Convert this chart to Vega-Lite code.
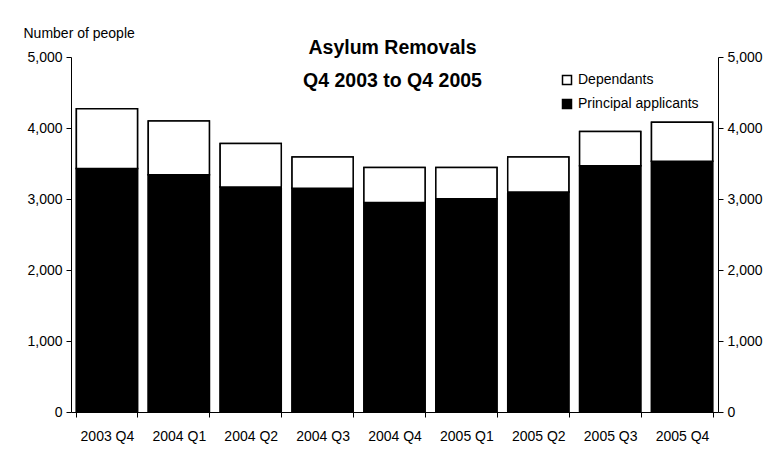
{
  "$schema": "https://vega.github.io/schema/vega-lite/v6.json",
  "width": 647,
  "height": 355,
  "autosize": {"type": "none"},
  "padding": {"left": 71, "top": 57, "right": 50, "bottom": 38},
  "background": "white",
  "config": {
    "view": {"stroke": null},
    "font": "Liberation Sans",
    "axis": {
      "grid": false,
      "domainColor": "black",
      "domainWidth": 1,
      "tickColor": "black",
      "tickSize": 5,
      "labelColor": "black",
      "labelFont": "Liberation Sans",
      "labelFontSize": 14,
      "titleColor": "black",
      "titleFont": "Liberation Sans"
    }
  },
  "title": {
    "text": ["Asylum Removals", "Q4 2003 to Q4 2005"],
    "font": "Liberation Sans",
    "fontSize": 19.5,
    "fontWeight": "bold",
    "color": "black",
    "orient": "top",
    "anchor": "middle",
    "frame": "group",
    "baseline": "top",
    "lineHeight": 33,
    "offset": 0,
    "dy": 65,
    "dx": -2
  },
  "data": {
    "values": [
      {"quarter": "2003 Q4", "type": "Principal applicants", "people": 3430},
      {"quarter": "2003 Q4", "type": "Dependants", "people": 840},
      {"quarter": "2004 Q1", "type": "Principal applicants", "people": 3340},
      {"quarter": "2004 Q1", "type": "Dependants", "people": 760},
      {"quarter": "2004 Q2", "type": "Principal applicants", "people": 3170},
      {"quarter": "2004 Q2", "type": "Dependants", "people": 610},
      {"quarter": "2004 Q3", "type": "Principal applicants", "people": 3150},
      {"quarter": "2004 Q3", "type": "Dependants", "people": 440},
      {"quarter": "2004 Q4", "type": "Principal applicants", "people": 2950},
      {"quarter": "2004 Q4", "type": "Dependants", "people": 495},
      {"quarter": "2005 Q1", "type": "Principal applicants", "people": 3005},
      {"quarter": "2005 Q1", "type": "Dependants", "people": 440},
      {"quarter": "2005 Q2", "type": "Principal applicants", "people": 3100},
      {"quarter": "2005 Q2", "type": "Dependants", "people": 490},
      {"quarter": "2005 Q3", "type": "Principal applicants", "people": 3470},
      {"quarter": "2005 Q3", "type": "Dependants", "people": 480},
      {"quarter": "2005 Q4", "type": "Principal applicants", "people": 3530},
      {"quarter": "2005 Q4", "type": "Dependants", "people": 550}
    ]
  },
  "layer": [
    {
      "mark": {"type": "bar", "stroke": "black", "strokeWidth": 1.5},
      "encoding": {
        "x": {
          "field": "quarter", "type": "nominal", "sort": null,
          "scale": {"paddingInner": 0.15, "paddingOuter": 0.075},
          "axis": {"title": null, "labelAngle": 0, "tickBand": "extent", "labelPadding": 12}
        },
        "y": {
          "field": "people", "type": "quantitative", "stack": "zero",
          "scale": {"domain": [0, 5000]},
          "axis": {
            "orient": "left",
            "values": [0, 1000, 2000, 3000, 4000, 5000],
            "format": ",.0f",
            "labelPadding": 4,
            "title": "Number of people",
            "titleAngle": 0,
            "titleAlign": "left",
            "titleBaseline": "alphabetic",
            "titleX": -48,
            "titleY": -20,
            "titleFontSize": 14,
            "titleFontWeight": "normal"
          }
        },
        "color": {
          "field": "type", "type": "nominal",
          "scale": {"domain": ["Dependants", "Principal applicants"], "range": ["white", "black"]},
          "legend": {
            "title": null,
            "orient": "none",
            "legendX": 489,
            "legendY": 16,
            "padding": 0,
            "symbolType": "square",
            "symbolSize": 81,
            "symbolStrokeColor": "black",
            "symbolStrokeWidth": 1.5,
            "labelFontSize": 14,
            "labelFont": "Liberation Sans",
            "labelColor": "black",
            "labelOffset": 4,
            "rowPadding": 8
          }
        },
        "order": {"field": "type", "sort": "descending"}
      }
    },
    {
      "mark": {"type": "bar", "stroke": "black", "strokeWidth": 1.5},
      "encoding": {
        "x": {
          "field": "quarter", "type": "nominal", "sort": null,
          "axis": {"title": null, "labelAngle": 0, "tickBand": "extent", "labelPadding": 12}
        },
        "y": {
          "field": "people", "type": "quantitative", "stack": "zero",
          "axis": {
            "orient": "right",
            "values": [0, 1000, 2000, 3000, 4000, 5000],
            "format": ",.0f",
            "labelPadding": 4,
            "title": null
          }
        },
        "color": {"field": "type", "type": "nominal", "legend": null},
        "order": {"field": "type", "sort": "descending"}
      }
    }
  ],
  "resolve": {"axis": {"y": "independent"}}
}
